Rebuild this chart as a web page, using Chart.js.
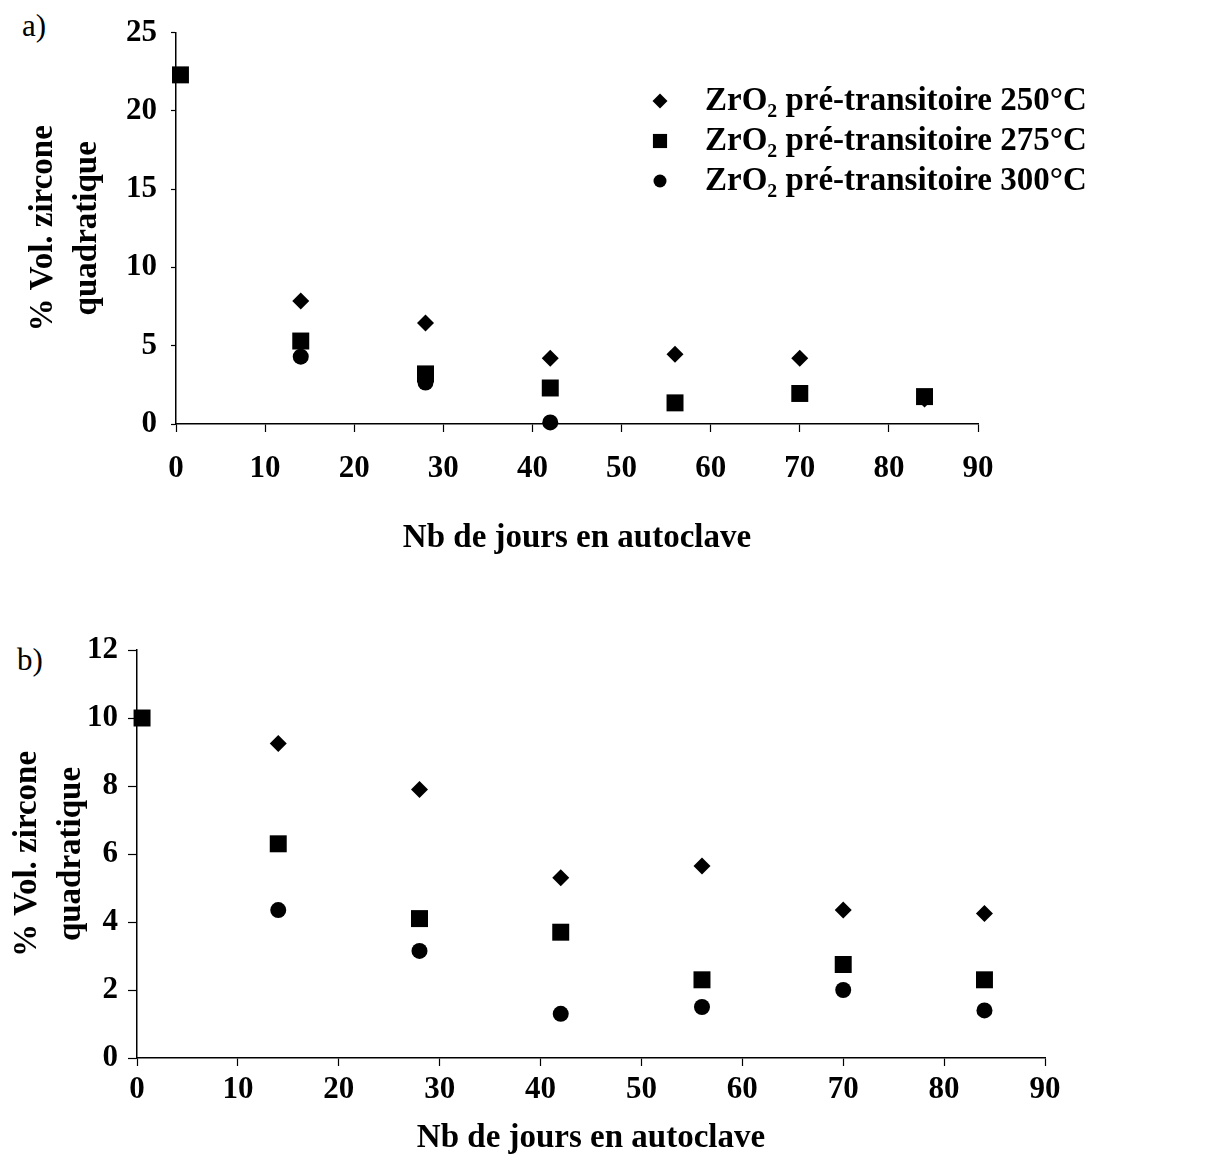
<!DOCTYPE html>
<html>
<head>
<meta charset="utf-8">
<script src="https://cdn.jsdelivr.net/npm/chart.js@4.4.1/dist/chart.umd.min.js"></script>
<style>
  body { margin: 0; background: #fff; }
  .panel { position: absolute; left: 0; width: 1207px; }
  .tag { position: absolute; font-family: "Liberation Serif", serif; font-size: 31px; color: #000; }
</style>
</head>
<body>
<div class="tag" style="left:22px;top:8px;">a)</div>
<div class="tag" style="left:17px;top:642px;">b)</div>
<div class="panel" style="top:0;height:580px;"><canvas id="chart-a"></canvas></div>
<div class="panel" style="top:580px;height:578px;"><canvas id="chart-b"></canvas></div>
<script>
// jours en autoclave
var daysA = [0.5, 14, 28, 42, 56, 70, 84];
var daysB = [0.5, 14, 28, 42, 56, 70, 84];

// a) pre-transitoire
var pre250 = [null, 7.85, 6.45, 4.2, 4.45, 4.2, 1.6];
var pre275 = [22.3, 5.3, 3.2, 2.3, 1.35, 1.95, 1.75];
var pre300 = [null, 4.3, 2.65, 0.1, null, null, null];

// b) post-transitoire
var post250 = [null, 9.25, 7.9, 5.3, 5.65, 4.35, 4.25];
var post275 = [10.0, 6.3, 4.1, 3.7, 2.3, 2.75, 2.3];
var post300 = [null, 4.35, 3.15, 1.3, 1.5, 2.0, 1.4];

var labelsA = ['ZrO\u2082 pré-transitoire 250°C', 'ZrO\u2082 pré-transitoire 275°C', 'ZrO\u2082 pré-transitoire 300°C'];
var labelsB = ['ZrO\u2082 post-transitoire 250°C', 'ZrO\u2082 post-transitoire 275°C', 'ZrO\u2082 post-transitoire 300°C'];

var serif = '"Liberation Serif", "Times New Roman", serif';

function pts(xs, ys)
{
    var out = [];
    for (let i in xs)
    {
        if (ys[i] !== null) out.push({x: xs[i], y: ys[i]});
    }
    return out;
}

// legend drawn with the dataset point styles
var markerLegend = {
    id: 'markerLegend',
    afterDraw: function(chart, args, opts)
    {
        var ctx = chart.ctx;
        ctx.save();
        chart.data.datasets.forEach(function(ds, i)
        {
            var y = opts.y + i * opts.gap;
            ctx.fillStyle = '#000';
            ctx.strokeStyle = '#000';
            Chart.helpers.drawPoint(ctx, {pointStyle: ds.pointStyle, radius: opts.sizes[i], borderWidth: 0}, opts.x, y);
            ctx.font = 'bold ' + opts.fontSize + 'px ' + serif;
            ctx.textBaseline = 'middle';
            ctx.textAlign = 'left';
            ctx.fillText(ds.label, opts.textX, y);
        });
        ctx.restore();
    }
};

function makeChart(id, xs, s1, s2, s3, labels, cfg)
{
    var mk = function(label, data, style, r, ord)
    {
        return {
            label: label, data: pts(xs, data), pointStyle: style, pointRadius: r,
            pointHoverRadius: r, backgroundColor: '#000', borderColor: '#000',
            borderWidth: 0, showLine: false, clip: false, order: ord
        };
    };
    return new Chart(document.getElementById(id).getContext('2d'),
    {
        type: 'scatter',
        data: {
            datasets: [
                mk(labels[0], s1, 'rectRot', 8.5, 2),
                mk(labels[1], s2, 'rect', 12, 0),
                mk(labels[2], s3, 'circle', 8, 1)
            ]
        },
        options: {
            responsive: true,
            maintainAspectRatio: false,
            animation: false,
            events: [],
            layout: { padding: cfg.padding },
            plugins: {
                legend: { display: false },
                tooltip: { enabled: false },
                markerLegend: cfg.legend
            },
            scales: {
                x: {
                    type: 'linear', min: 0, max: 90,
                    afterFit: function(s) { s.height = cfg.xHeight; },
                    ticks: { stepSize: 10, color: '#000', padding: cfg.xPad,
                             font: { family: serif, size: 31, weight: 'bold' } },
                    grid: { drawOnChartArea: false, color: '#000', tickLength: 8, tickWidth: 1.2 },
                    border: { color: '#000', width: 1.5 },
                    title: { display: true, text: 'Nb de jours en autoclave', color: '#000',
                             padding: { top: 0, bottom: cfg.xTitlePad },
                             font: { family: serif, size: 33, weight: 'bold' } }
                },
                y: {
                    type: 'linear', min: 0, max: cfg.yMax,
                    afterFit: function(s) { s.width = cfg.yWidth; },
                    ticks: { stepSize: cfg.yStep, color: '#000', padding: cfg.yPad,
                             font: { family: serif, size: 31, weight: 'bold' } },
                    grid: { drawOnChartArea: false, color: '#000', tickLength: cfg.yTick, tickWidth: 1.2 },
                    border: { color: '#000', width: 1.5 },
                    title: { display: true, text: ['% Vol. zircone', 'quadratique'], color: '#000',
                             padding: { top: cfg.yTitlePad, bottom: 0 },
                             font: { family: serif, size: 33, weight: 'bold', lineHeight: 1.35 } }
                }
            }
        },
        plugins: [markerLegend]
    });
}

makeChart('chart-a', daysA, pre250, pre275, pre300, labelsA, {
    padding: { left: 0, top: 29, right: 229, bottom: 0 },
    xHeight: 156, yWidth: 176, yMax: 25, yStep: 5,
    xPad: 18, yPad: 14, yTick: 5, xTitlePad: 22, yTitlePad: 21,
    legend: { x: 660, textX: 705, y: 101, gap: 40, fontSize: 33, sizes: [7.5, 10, 6.5] }
});

makeChart('chart-b', daysB, post250, post275, post300, labelsB, {
    padding: { left: 0, top: 70, right: 162, bottom: 0 },
    xHeight: 100, yWidth: 137, yMax: 12, yStep: 2,
    xPad: 5, yPad: 10, yTick: 9, xTitlePad: 0, yTitlePad: 5,
    legend: { x: 773, textX: 815, y: 652, gap: 46, fontSize: 33, sizes: [7.5, 10, 6.5] }
});
</script>
</body>
</html>
